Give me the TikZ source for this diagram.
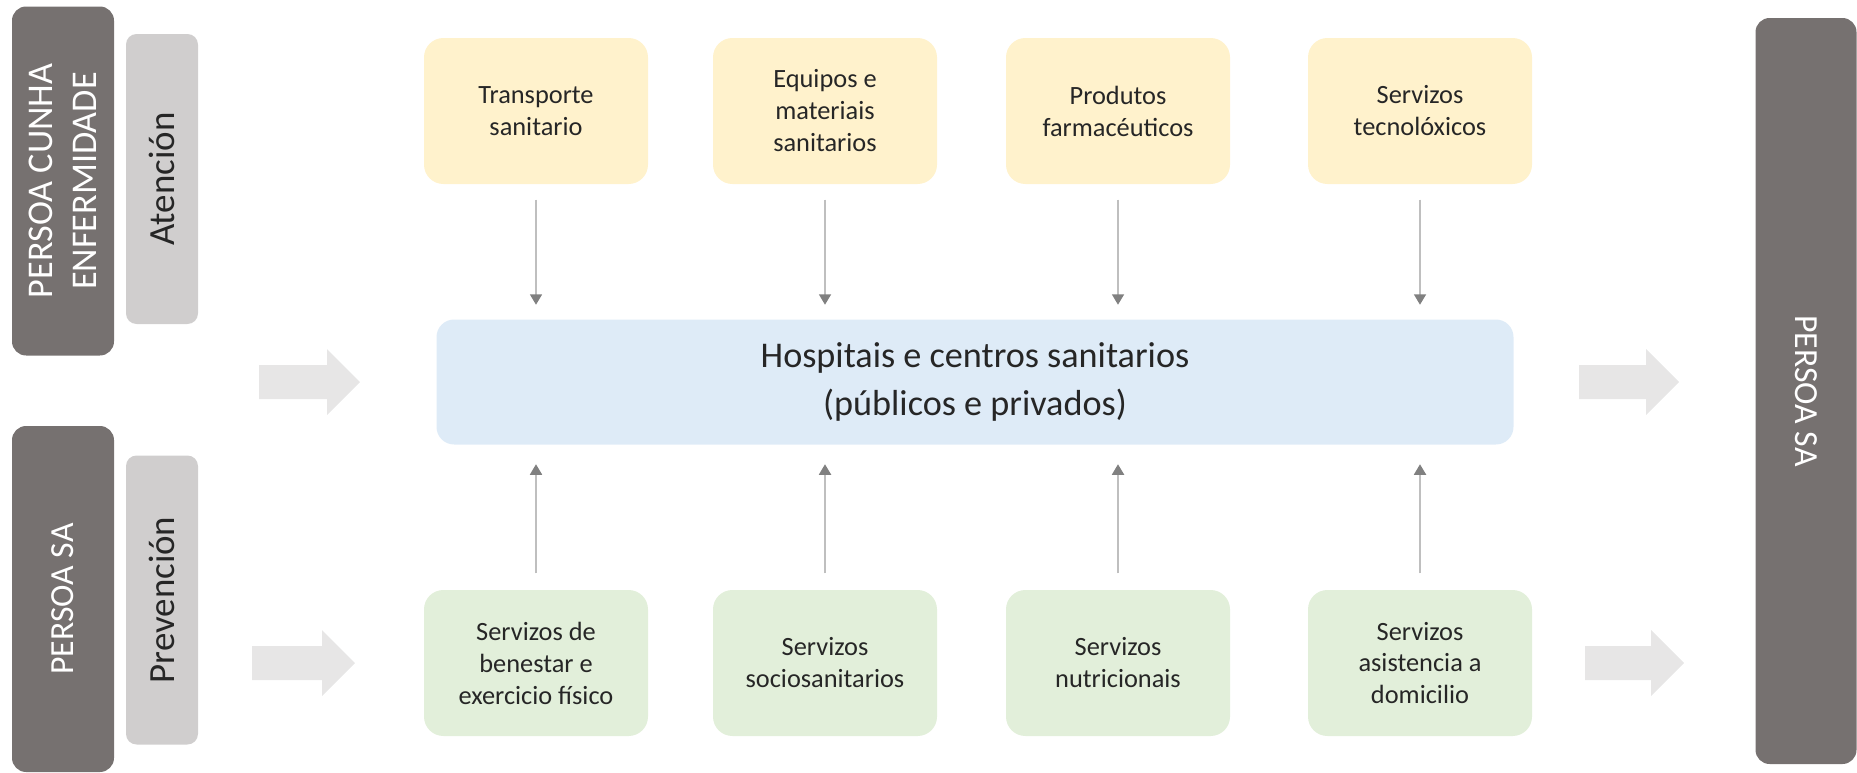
\documentclass[tikz,border=0pt]{standalone}
\usepackage{fontspec}
\setmainfont{Carlito}
\usetikzlibrary{arrows.meta}

\definecolor{grisoscuro}{RGB}{118,113,112}
\definecolor{grisclaro}{RGB}{208,206,206}
\definecolor{amarelo}{RGB}{255,242,204}
\definecolor{azul}{RGB}{222,235,247}
\definecolor{verde}{RGB}{226,239,218}
\definecolor{frechagris}{RGB}{231,230,230}
\definecolor{texto}{RGB}{38,38,38}

\tikzset{
  persoa/.style={fill=grisoscuro, text=white, rounded corners=4pt,
    minimum height=1.02cm, align=center, inner sep=0pt,
    font=\fontsize{10.3}{12.4}\selectfont},
  fase/.style={fill=grisclaro, text=texto, rounded corners=3pt,
    minimum height=0.72cm, inner sep=0pt,
    font=\fontsize{10.5}{12.6}\selectfont},
  caixa/.style={rounded corners=5.5pt, minimum width=2.24cm,
    minimum height=1.46cm, align=center, text=texto, inner sep=0pt,
    font=\fontsize{7.5}{9.1}\selectfont},
  frechafina/.style={draw=gray!50, line width=0.55pt,
    -{Triangle[length=3pt,width=3.4pt,color=gray]}},
}

% frecha grosa: x inicial, x final, y do centro
\newcommand{\frechagrosa}[3]{%
  \fill[frechagris] (#1,{#3-17}) -- ({#2-33},{#3-17}) -- ({#2-33},{#3-33})
    -- (#2,#3) -- ({#2-33},{#3+33}) -- ({#2-33},{#3+17}) -- (#1,{#3+17}) -- cycle;}

\begin{document}
\begin{tikzpicture}[x=0.1mm, y=-0.1mm]
\useasboundingbox (0,0) rectangle (1857,773);

% Columna da esquerda
\node[persoa, rotate=90, minimum width=3.49cm] (enfermo) at (63,181) {PERSOA CUNHA\\ENFERMIDADE};
\node[fase, rotate=90, minimum width=2.90cm] (atencion) at (162,179) {Atención};
\node[persoa, rotate=90, minimum width=3.46cm, font=\fontsize{9.6}{11.5}\selectfont] (san) at (63,599) {PERSOA SA};
\node[fase, rotate=90, minimum width=2.89cm] (prevencion) at (162,600) {Prevención};

% Columna da dereita
\node[persoa, rotate=-90, minimum width=7.46cm, minimum height=1.01cm,
  font=\fontsize{9.6}{11.5}\selectfont] (persoasa) at (1806,391) {PERSOA SA};

% Caixa central
\node[fill=azul, rounded corners=5pt, minimum width=10.77cm, minimum height=1.25cm,
  align=center, text=texto, inner sep=0pt, font=\fontsize{10.3}{13.4}\selectfont]
  (hosp) at (975,382) {Hospitais e centros sanitarios\\(públicos e privados)};

% Atención: caixas de arriba
\node[caixa, fill=amarelo] (sup1) at (536,111) {Transporte\\sanitario};
\node[caixa, fill=amarelo] (sup2) at (825,111) {Equipos e\\materiais\\sanitarios};
\node[caixa, fill=amarelo] (sup3) at (1118,111) {Produtos\\farmacéuticos};
\node[caixa, fill=amarelo] (sup4) at (1420,111) {Servizos\\tecnolóxicos};

% Prevención: caixas de abaixo
\node[caixa, fill=verde] (inf1) at (536,663) {Servizos de\\benestar e\\exercicio físico};
\node[caixa, fill=verde] (inf2) at (825,663) {Servizos\\sociosanitarios};
\node[caixa, fill=verde] (inf3) at (1118,663) {Servizos\\nutricionais};
\node[caixa, fill=verde] (inf4) at (1420,663) {Servizos\\asistencia a\\domicilio};

% Frechas finas cara á caixa central
\foreach \i in {1,...,4} {
  \draw[frechafina, shorten <=1.5mm, shorten >=1.4mm] (sup\i.south) -- (sup\i.south |- hosp.north);
  \draw[frechafina, shorten <=1.6mm, shorten >=1.9mm] (inf\i.north) -- (inf\i.north |- hosp.south);
}

% Frechas grosas
\frechagrosa{259}{360}{382}
\frechagrosa{252}{355}{663}
\frechagrosa{1579}{1679}{382}
\frechagrosa{1585}{1684}{663}
\end{tikzpicture}
\end{document}
